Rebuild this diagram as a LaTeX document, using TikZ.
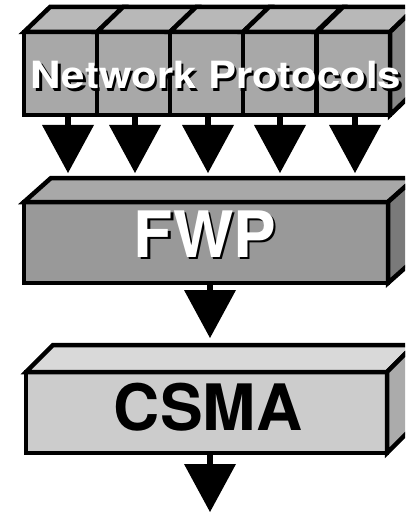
\documentclass[tikz,border=0pt]{standalone}
\usepackage{graphicx}
\usepackage{fontspec}
\setmainfont{TeX Gyre Heros}
\usetikzlibrary{arrows.meta}

\definecolor{prototop}{gray}{0.72}
\definecolor{protofront}{gray}{0.66}
\definecolor{protoside}{gray}{0.53}
\definecolor{fwptop}{gray}{0.66}
\definecolor{fwpfront}{gray}{0.60}
\definecolor{fwpside}{gray}{0.48}
\definecolor{csmatop}{gray}{0.85}
\definecolor{csmafront}{gray}{0.80}
\definecolor{csmaside}{gray}{0.67}

\newcommand\protofont{\fontsize{37.5}{40}\selectfont\bfseries}
\newcommand\layerfont{\fontsize{64}{70}\selectfont\bfseries}

\tikzset{
  face/.style={draw,line width=4.5pt,line join=miter},
  layer/.style={face,rectangle,inner sep=0pt,outer sep=0pt,minimum height=81pt},
  flow/.style={line width=6pt,-{Triangle[width=52pt,length=48pt,line width=0pt]}},
}

\begin{document}
\begin{tikzpicture}[x=1pt,y=-1pt]
  \useasboundingbox (0,0) rectangle (405,513);
  \clip (0,0) rectangle (405,513);

  % the protocol boxes on top
  \foreach \i/\x in {1/60.5,2/133.5,3/206.5,4/279.5,5/353.5}{
    \node[layer,fill=protofront,minimum width=73pt,minimum height=83pt] (p\i) at (\x,73.5) {};
    \draw[face,fill=prototop] (p\i.north west) -- ++(26,-25) -- ++(73,0) -- (p\i.north east) -- cycle;
  }
  \draw[face,fill=protoside] (p5.north east) -- ++(26,-25) -- ++(0,83) -- (p5.south east) -- cycle;

  \node[anchor=base,text=black] (netshade) at (218.5,91.5) {\scalebox{1.12}[1]{\protofont Network Protocols}};
  \node[anchor=base,text=white] (netlbl) at (216,89) {\scalebox{1.12}[1]{\protofont Network Protocols}};

  % FWP
  \node[layer,fill=fwpfront,minimum width=364pt] (fwp) at (206,242.5) {};
  \draw[face,fill=fwptop] (fwp.north west) -- ++(27,-24) -- ++(364,0) -- (fwp.north east) -- cycle;
  \draw[face,fill=fwpside] (fwp.north east) -- ++(27,-24) -- ++(0,81) -- (fwp.south east) -- cycle;
  \node[anchor=base,text=black] (fwpshade) at (207.5,259.5) {\layerfont FWP};
  \node[anchor=base,text=white] (fwplbl) at (205,257) {\layerfont FWP};

  % arrows into FWP
  \foreach \i/\x in {1/68,2/135,3/208,4/280,5/355}{
    \coordinate (t\i) at (\x,173);
    \draw[flow] (p\i.south -| t\i) -- (t\i);
  }

  % CSMA
  \node[layer,fill=csmafront,minimum width=361pt] (csma) at (206.5,412.5) {};
  \draw[face,fill=csmatop] (csma.north west) -- ++(27,-27) -- ++(361,0) -- (csma.north east) -- cycle;
  \draw[face,fill=csmaside] (csma.north east) -- ++(27,-27) -- ++(0,81) -- (csma.south east) -- cycle;
  \node[anchor=base,text=black] (csmalbl) at (208,430) {\layerfont CSMA};

  \coordinate (fwptip) at (210,338);
  \draw[flow] (fwp.south -| fwptip) -- (fwptip);

  \coordinate (out) at (210,512);
  \draw[flow] (csma.south -| out) -- (out);
\end{tikzpicture}
\end{document}
